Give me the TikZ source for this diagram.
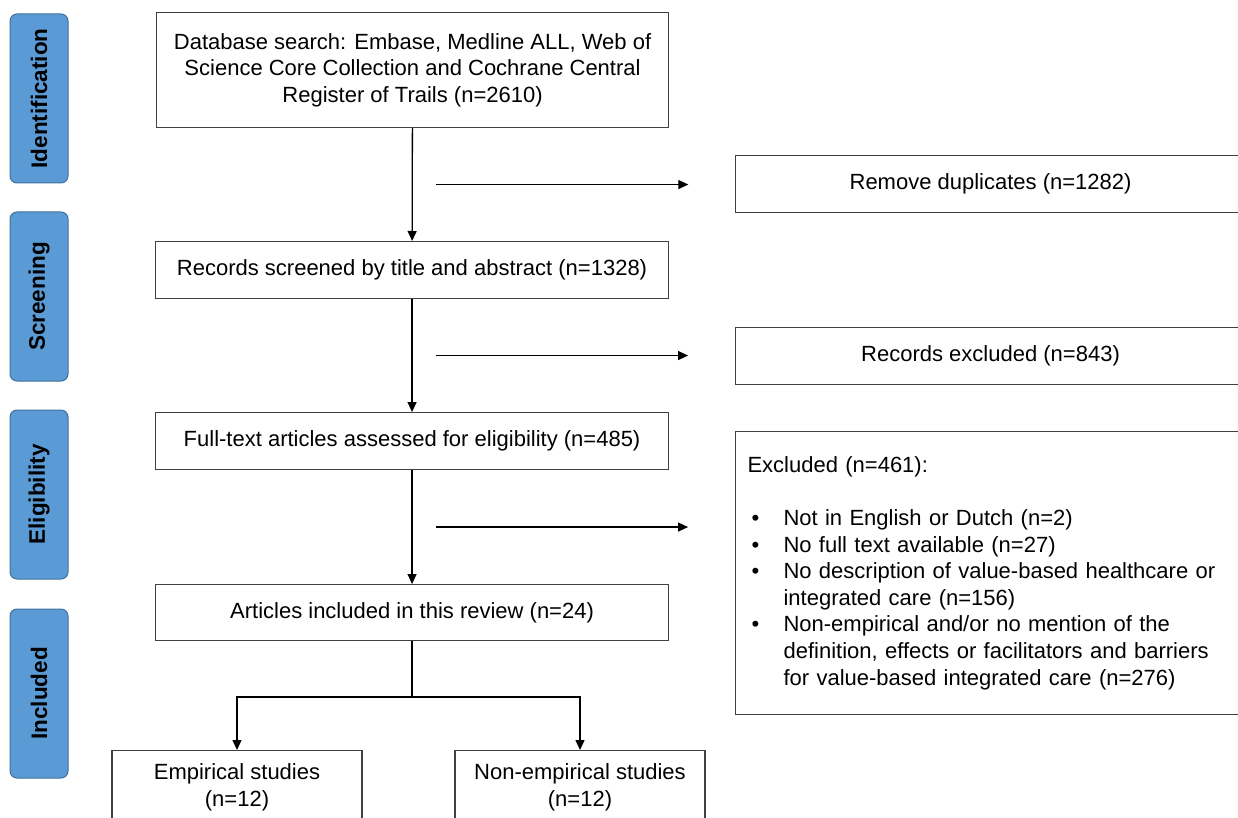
\documentclass[tikz,border=0pt]{standalone}
\usepackage{fontspec}
\setmainfont{Liberation Sans}
\usetikzlibrary{arrows.meta,calc}
\definecolor{tabblue}{HTML}{5B9BD5}
\definecolor{tabline}{HTML}{41719C}
\newcommand{\bitem}{\makebox[36pt][l]{\hspace{4pt}\textbullet}}
\newcommand{\bcont}{\hspace*{36pt}}
\begin{document}
\begin{tikzpicture}[x=1pt, y=-1pt, font=\fontsize{22}{26.6}\selectfont,
  box/.style={draw=black!75, line width=1.1pt, inner sep=0pt, align=center},
  tab/.style={draw=tabline, fill=tabblue, line width=1pt, rounded corners=7pt,
    rotate=90, minimum width=169pt, minimum height=58pt, font=\fontsize{22.5}{24}\selectfont\bfseries},
  arr/.style={line width=1.3pt, -{Triangle[length=10pt, width=9pt]}}]
\clip (0,0) rectangle (1238,818);
\fill [white] (0,0) rectangle (1238,818);
% stage tabs
\node [tab] (ident) at (39,98.5) {Identification};
\node [tab] (screen) at (39,296.5) {Screening};
\node [tab] (elig) at (39,494.5) {Eligibility};
\node [tab] (incl) at (39,693.5) {Included};
% main column
\node [box, anchor=north west, minimum width=512pt, minimum height=115pt] (db) at (156,12)
  {Database search: Embase, Medline ALL, Web of\\Science Core Collection and Cochrane Central\\Register of Trails (n=2610)};
\node [box, anchor=north west, minimum width=513pt, minimum height=57pt] (screened) at (155,241)
  {Records screened by title and abstract (n=1328)};
\node [box, anchor=north west, minimum width=513pt, minimum height=57pt] (fulltext) at (155,412)
  {Full-text articles assessed for eligibility (n=485)};
\node [box, anchor=north west, minimum width=513pt, minimum height=56pt] (included) at (155,584)
  {Articles included in this review (n=24)};
% exclusions
\node [box, anchor=north west, minimum width=510pt, minimum height=57pt] (dup) at (735,155)
  {Remove duplicates (n=1282)};
\node [box, anchor=north west, minimum width=510pt, minimum height=57pt] (recexcl) at (735,327)
  {Records excluded (n=843)};
\node [box, anchor=north west, align=left, text width=492pt, inner xsep=12pt, minimum height=283pt] (excl) at (735,431)
  {Excluded (n=461):\\[26.6pt]
   \bitem Not in English or Dutch (n=2)\\
   \bitem No full text available (n=27)\\
   \bitem No description of value-based healthcare or\\
   \bcont integrated care (n=156)\\
   \bitem Non-empirical and/or no mention of the\\
   \bcont definition, effects or facilitators and barriers\\
   \bcont for value-based integrated care (n=276)};
% split
\node [box, anchor=north, minimum width=250pt, minimum height=74pt] (empirical) at (237,750)
  {Empirical studies\\(n=12)};
\node [box, anchor=north, minimum width=250pt, minimum height=74pt] (nonemp) at (580,750)
  {Non-empirical studies\\(n=12)};
% connectors
\draw [arr] (db) -- (screened);
\draw [arr] (screened) -- (fulltext);
\draw [arr] (fulltext) -- (included);
\coordinate (m1) at ($(db.south)!0.5!(screened.north)$);
\coordinate (m2) at ($(screened.south)!0.5!(fulltext.north)$);
\coordinate (m3) at ($(fulltext.south)!0.5!(included.north)$);
\draw [arr] ($(m1)+(24,0)$) -- ($(m1)+(276,0)$);
\draw [arr] ($(m2)+(24,0)$) -- ($(m2)+(276,0)$);
\draw [arr] ($(m3)+(24,0)$) -- ($(m3)+(276,0)$);
\draw [line width=1.3pt] (included.south) -- ++(0,56) coordinate (split);
\draw [arr] (split) -| (empirical.north);
\draw [arr] (split) -| (nonemp.north);
\end{tikzpicture}
\end{document}
